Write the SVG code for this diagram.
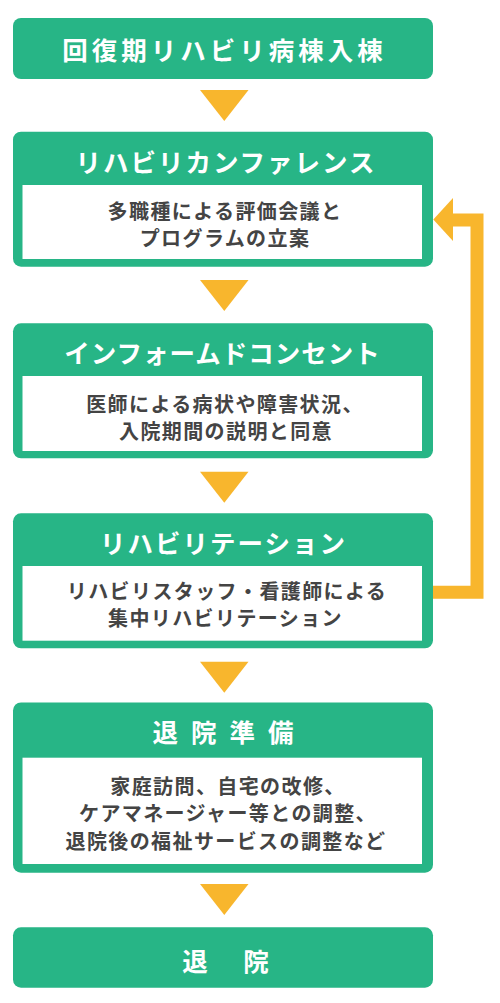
<svg xmlns="http://www.w3.org/2000/svg" width="500" height="1003" viewBox="0 0 500 1003">
<style>
.box{fill:#27B586}
.inner{fill:#FFFFFF}
.tri{fill:#F8B62D}
.title{font-family:"Noto Sans CJK JP","Noto Sans",sans-serif;font-size:25.5px;font-weight:700;fill:#FFFFFF;text-anchor:middle;dominant-baseline:central}
.body{font-family:"Noto Sans CJK JP","Noto Sans",sans-serif;font-size:20px;font-weight:700;fill:#444444;text-anchor:middle;dominant-baseline:central;letter-spacing:1.4px}
.fb{fill:none;stroke:#F8B62D;stroke-width:13;stroke-linejoin:miter}
</style>
<rect width="500" height="1003" fill="#FFFFFF"/>
<g id="node-admission">
<rect class="box" x="13" y="18" width="420" height="61" rx="8"/>
<text class="title" x="224.5" y="48.5" style="letter-spacing:4px">回復期リハビリ病棟入棟</text>
</g>
<g id="node-conference">
<rect class="box" x="13" y="131.7" width="420" height="135" rx="8"/>
<rect class="inner" x="22.5" y="185" width="399.5" height="74"/>
<text class="title" x="226" y="160" style="letter-spacing:2px">リハビリカンファレンス</text>
<text class="body" x="225" y="210">多職種による評価会議と</text>
<text class="body" x="225" y="237">プログラムの立案</text>
</g>
<g id="node-ic">
<rect class="box" x="13" y="323.3" width="420" height="135" rx="8"/>
<rect class="inner" x="22.5" y="376" width="399.5" height="75"/>
<text class="title" x="222.5" y="351.7" style="letter-spacing:1px">インフォームドコンセント</text>
<text class="body" x="225" y="403">医師による病状や障害状況、</text>
<text class="body" x="226" y="430">入院期間の説明と同意</text>
</g>
<g id="node-rehab">
<rect class="box" x="13" y="513.3" width="420" height="135" rx="8"/>
<rect class="inner" x="22.5" y="566" width="399.5" height="74.7"/>
<text class="title" x="223.5" y="541.7" style="letter-spacing:2px">リハビリテーション</text>
<text class="body" x="227" y="590">リハビリスタッフ・看護師による</text>
<text class="body" x="225.5" y="617">集中リハビリテーション</text>
</g>
<g id="node-prep">
<rect class="box" x="13" y="702.5" width="420" height="170.2" rx="8"/>
<rect class="inner" x="22.5" y="757.7" width="399.5" height="106.3"/>
<text class="title" x="229.5" y="730" style="letter-spacing:13px">退院準備</text>
<text class="body" x="228" y="785">家庭訪問、自宅の改修、</text>
<text class="body" x="228" y="812.5">ケアマネージャー等との調整、</text>
<text class="body" x="226" y="840">退院後の福祉サービスの調整など</text>
</g>
<g id="node-discharge">
<rect class="box" x="13" y="927.3" width="420" height="60.4" rx="8"/>
<text class="title" x="228" y="959.3" style="letter-spacing:5px">退　院</text>
</g>
<g id="connectors">
<polygon class="tri" points="200,90 248.5,90 224.3,121"/>
<polygon class="tri" points="200,280 248.5,280 224.3,311"/>
<polygon class="tri" points="200,471.7 248.5,471.7 224.3,502.7"/>
<polygon class="tri" points="200,661.7 248.5,661.7 224.3,692.7"/>
<polygon class="tri" points="200,884 248.5,884 224.3,915"/>
<path class="fb" d="M433 592.3 H477 V220 H450"/>
<polygon class="tri" points="433.3,219.5 453,198 453,241"/>
</g>
</svg>
